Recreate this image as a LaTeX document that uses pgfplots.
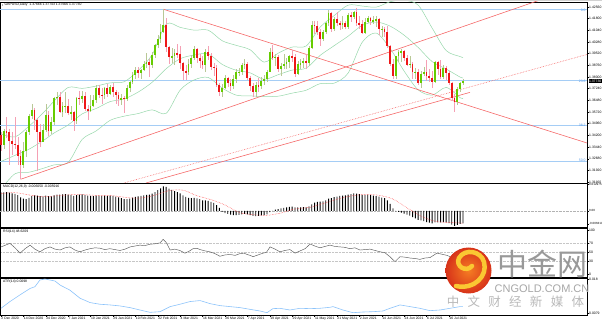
\documentclass[border=0pt]{standalone}
\usepackage{pgfplots}
\pgfplotsset{compat=1.18}
\usepackage{pgfplotstable}
\usepackage{fontspec}
\setmainfont{Liberation Sans}
\newfontfamily\cjk{Noto Sans CJK SC}
\definecolor{bull}{RGB}{102,204,0}
\definecolor{bear}{RGB}{238,24,24}
\definecolor{bullwick}{RGB}{185,200,150}
\definecolor{bearwick}{RGB}{245,160,180}
\definecolor{bband}{RGB}{150,215,170}
\definecolor{trend}{RGB}{245,105,105}
\definecolor{fib}{RGB}{165,205,245}
\definecolor{fibtxt}{RGB}{80,150,230}
\definecolor{atrcol}{RGB}{140,195,250}
\definecolor{logored}{RGB}{215,50,25}
\definecolor{logoor}{RGB}{245,125,35}
\definecolor{logoyel}{RGB}{250,200,50}
\newcommand\tk{\fontsize{3.4}{3.8}\selectfont}

% GBPUSD daily candles, i = bar number from 2 Dec 2020
\pgfplotstableread{
i o h l c
0 1.3425 1.3440 1.3320 1.3360
1 1.3360 1.3460 1.3330 1.3450
2 1.3450 1.3540 1.3400 1.3440
3 1.3440 1.3460 1.3225 1.3385
4 1.3385 1.3445 1.3290 1.3365
5 1.3365 1.3540 1.3330 1.3360
6 1.3360 1.3410 1.3225 1.3285
7 1.3285 1.3325 1.3134 1.3225
8 1.3225 1.3380 1.3210 1.3315
9 1.3315 1.3455 1.3280 1.3440
10 1.3440 1.3560 1.3420 1.3545
11 1.3545 1.3625 1.3525 1.3585
12 1.3585 1.3600 1.3455 1.3520
13 1.3520 1.3530 1.3188 1.3445
14 1.3445 1.3495 1.3345 1.3380
15 1.3380 1.3495 1.3375 1.3455
16 1.3455 1.3625 1.3440 1.3550
17 1.3550 1.3580 1.3415 1.3450
18 1.3450 1.3540 1.3430 1.3505
19 1.3505 1.3670 1.3490 1.3665
20 1.3665 1.3705 1.3620 1.3670
21 1.3670 1.3705 1.3565 1.3570
22 1.3570 1.3640 1.3540 1.3610
23 1.3610 1.3705 1.3565 1.3612
24 1.3610 1.3655 1.3555 1.3565
25 1.3565 1.3610 1.3520 1.3570
26 1.3570 1.3580 1.3450 1.3515
27 1.3515 1.3670 1.3495 1.3665
28 1.3665 1.3710 1.3620 1.3660
29 1.3660 1.3710 1.3630 1.3675
30 1.3675 1.3700 1.3580 1.3590
31 1.3590 1.3620 1.3520 1.3580
32 1.3580 1.3680 1.3575 1.3610
33 1.3610 1.3680 1.3605 1.3650
34 1.3650 1.3745 1.3630 1.3730
35 1.3730 1.3745 1.3665 1.3685
36 1.3685 1.3730 1.3625 1.3680
37 1.3680 1.3735 1.3660 1.3730
38 1.3730 1.3755 1.3670 1.3690
39 1.3690 1.3750 1.3680 1.3735
40 1.3735 1.3760 1.3670 1.3705
41 1.3705 1.3715 1.3625 1.3680
42 1.3680 1.3700 1.3610 1.3655
43 1.3655 1.3690 1.3620 1.3665
44 1.3665 1.3675 1.3566 1.3660
45 1.3660 1.3750 1.3645 1.3730
46 1.3730 1.3775 1.3700 1.3765
47 1.3765 1.3830 1.3755 1.3815
48 1.3815 1.3865 1.3790 1.3845
49 1.3845 1.3865 1.3795 1.3825
50 1.3825 1.3850 1.3790 1.3845
51 1.3845 1.3905 1.3840 1.3885
52 1.3885 1.3953 1.3860 1.3895
53 1.3895 1.3915 1.3800 1.3875
54 1.3875 1.3960 1.3860 1.3945
55 1.3945 1.4015 1.3925 1.4010
56 1.4010 1.4075 1.3990 1.4050
57 1.4050 1.4145 1.4020 1.4095
58 1.4095 1.4241 1.4085 1.4140
59 1.4140 1.4185 1.3960 1.3995
60 1.3995 1.4005 1.3885 1.3930
61 1.3930 1.3990 1.3890 1.3935
62 1.3935 1.3985 1.3875 1.3955
63 1.3955 1.4015 1.3925 1.3950
64 1.3950 1.4005 1.3855 1.3890
65 1.3890 1.3895 1.3778 1.3840
66 1.3840 1.3880 1.3780 1.3830
67 1.3830 1.3915 1.3815 1.3885
68 1.3885 1.3945 1.3860 1.3925
69 1.3925 1.4000 1.3910 1.3985
70 1.3985 1.3990 1.3890 1.3925
71 1.3925 1.3950 1.3860 1.3905
72 1.3905 1.3935 1.3850 1.3875
73 1.3875 1.3985 1.3830 1.3965
74 1.3965 1.4000 1.3910 1.3935
75 1.3935 1.3955 1.3845 1.3865
76 1.3865 1.3890 1.3805 1.3860
77 1.3860 1.3875 1.3735 1.3745
78 1.3745 1.3760 1.3675 1.3700
79 1.3700 1.3755 1.3670 1.3730
80 1.3730 1.3810 1.3720 1.3795
81 1.3795 1.3800 1.3735 1.3760
82 1.3760 1.3785 1.3710 1.3740
83 1.3740 1.3810 1.3725 1.3785
84 1.3785 1.3850 1.3760 1.3830
85 1.3830 1.3860 1.3805 1.3835
86 1.3835 1.3890 1.3815 1.3880
87 1.3880 1.3920 1.3850 1.3885
88 1.3885 1.3895 1.3780 1.3795
89 1.3795 1.3805 1.3710 1.3740
90 1.3740 1.3760 1.3670 1.3705
91 1.3705 1.3765 1.3670 1.3745
92 1.3745 1.3795 1.3700 1.3740
93 1.3740 1.3800 1.3725 1.3775
94 1.3775 1.3815 1.3745 1.3785
95 1.3785 1.3845 1.3770 1.3835
96 1.3835 1.3990 1.3830 1.3960
97 1.3960 1.4010 1.3910 1.3925
98 1.3925 1.3950 1.3870 1.3930
99 1.3930 1.3945 1.3830 1.3850
100 1.3850 1.3890 1.3805 1.3870
101 1.3870 1.3950 1.3850 1.3885
102 1.3885 1.3925 1.3850 1.3895
103 1.3895 1.3945 1.3860 1.3935
104 1.3935 1.3975 1.3900 1.3930
105 1.3930 1.3950 1.3800 1.3820
106 1.3820 1.3905 1.3810 1.3885
107 1.3885 1.3915 1.3850 1.3890
108 1.3890 1.3925 1.3860 1.3905
109 1.3905 1.3950 1.3850 1.3890
110 1.3890 1.4000 1.3870 1.3990
111 1.3990 1.4165 1.3985 1.4140
112 1.4140 1.4165 1.4080 1.4135
113 1.4135 1.4165 1.4075 1.4095
114 1.4095 1.4110 1.4005 1.4050
115 1.4050 1.4105 1.4035 1.4095
116 1.4095 1.4155 1.4080 1.4150
117 1.4150 1.4235 1.4135 1.4215
118 1.4215 1.4220 1.4095 1.4110
119 1.4110 1.4190 1.4100 1.4180
120 1.4180 1.4220 1.4135 1.4150
121 1.4150 1.4165 1.4105 1.4145
122 1.4145 1.4200 1.4110 1.4150
123 1.4150 1.4165 1.4110 1.4125
124 1.4125 1.4215 1.4110 1.4205
125 1.4205 1.4220 1.4160 1.4190
126 1.4190 1.4230 1.4175 1.4225
127 1.4225 1.4250 1.4135 1.4150
128 1.4150 1.4195 1.4115 1.4145
129 1.4145 1.4170 1.4080 1.4085
130 1.4085 1.4185 1.4080 1.4160
131 1.4160 1.4200 1.4150 1.4185
132 1.4185 1.4190 1.4140 1.4165
133 1.4165 1.4195 1.4145 1.4170
134 1.4170 1.4200 1.4125 1.4175
135 1.4175 1.4185 1.4075 1.4110
136 1.4110 1.4135 1.4060 1.4115
137 1.4115 1.4125 1.4060 1.4095
138 1.4095 1.4135 1.3990 1.4005
139 1.4005 1.4010 1.3870 1.3885
140 1.3885 1.3915 1.3785 1.3805
141 1.3805 1.3935 1.3790 1.3935
142 1.3935 1.3975 1.3895 1.3960
143 1.3960 1.3985 1.3900 1.3970
144 1.3970 1.3975 1.3905 1.3925
145 1.3925 1.3945 1.3870 1.3880
146 1.3880 1.3935 1.3860 1.3885
147 1.3885 1.3900 1.3790 1.3830
148 1.3830 1.3860 1.3785 1.3835
149 1.3835 1.3850 1.3745 1.3760
150 1.3760 1.3840 1.3730 1.3820
151 1.3820 1.3865 1.3805 1.3835
152 1.3835 1.3910 1.3775 1.3805
153 1.3805 1.3850 1.3765 1.3795
154 1.3795 1.3840 1.3730 1.3765
155 1.3765 1.3905 1.3760 1.3895
156 1.3895 1.3905 1.3815 1.3855
157 1.3855 1.3910 1.3790 1.3800
158 1.3800 1.3880 1.3790 1.3860
159 1.3860 1.3870 1.3780 1.3825
160 1.3825 1.3840 1.3750 1.3760
161 1.3760 1.3765 1.3645 1.3665
162 1.3665 1.3690 1.3572 1.3635
163 1.3635 1.3735 1.3620 1.3725
164 1.3725 1.3770 1.3700 1.3760
165 1.3760 1.3785 1.3745 1.3773
}\candles

% Bollinger bands (20,2), read every few bars
\pgfplotstableread{
i up mid lo
0 1.3430 1.3250 1.3070
5 1.3410 1.3290 1.3170
10 1.3480 1.3330 1.3180
15 1.3565 1.3385 1.3205
19 1.3644 1.3436 1.3228
24 1.3732 1.3488 1.3244
29 1.3726 1.3560 1.3394
34 1.3741 1.3595 1.3449
39 1.3762 1.3640 1.3518
44 1.3769 1.3657 1.3545
49 1.3842 1.3702 1.3562
54 1.3946 1.3766 1.3586
59 1.4144 1.3854 1.3564
64 1.4123 1.3919 1.3715
69 1.4105 1.3943 1.3781
74 1.4105 1.3951 1.3797
79 1.4036 1.3882 1.3728
84 1.4006 1.3844 1.3682
89 1.3977 1.3827 1.3677
94 1.3897 1.3785 1.3673
99 1.3955 1.3815 1.3675
104 1.3995 1.3845 1.3695
109 1.4002 1.3858 1.3714
114 1.4125 1.3941 1.3757
119 1.4200 1.4004 1.3760
124 1.4268 1.4066 1.3826
129 1.4262 1.4136 1.4026
134 1.4255 1.4158 1.4086
139 1.4290 1.4131 1.3985
144 1.4300 1.4072 1.3838
149 1.4268 1.3992 1.3716
154 1.4118 1.3900 1.3682
159 1.3972 1.3852 1.3732
164 1.3933 1.3799 1.3665
165 1.3926 1.3794 1.3662
}\bbands

% MACD main line, units of 0.0001
\pgfplotstableread{
i m
0 90
1 91
2 92
3 89
4 86
5 83
6 77
7 66
8 60
9 58
10 64
11 72
12 76
13 75
14 72
15 71
16 74
17 72
18 71
19 76
20 80
21 80
22 81
23 82
24 80
25 78
26 73
27 77
28 79
29 81
30 78
31 75
32 73
33 72
34 74
35 74
36 73
37 75
38 73
39 74
40 73
41 70
42 66
43 62
44 57
45 58
46 60
47 65
48 69
49 71
50 73
51 76
52 78
53 79
54 84
55 92
56 101
57 110
58 120
59 117
60 109
61 102
62 97
63 92
64 85
65 76
66 68
67 64
68 63
69 64
70 61
71 57
72 52
73 52
74 49
75 44
76 39
77 28
78 15
79 -4
80 -10
81 -14
82 -18
83 -20
84 -20
85 -19
86 -16
87 -14
88 -16
89 -20
90 -24
91 -25
92 -24
93 -22
94 -20
95 -16
96 -6
97 0
98 6
99 9
100 12
101 15
102 18
103 20
104 21
105 18
106 18
107 18
108 19
109 18
110 22
111 32
112 40
113 44
114 45
115 47
116 52
117 60
118 62
119 67
120 70
121 73
122 75
123 76
124 80
125 82
126 85
127 84
128 82
129 78
130 78
131 79
132 77
133 74
134 72
135 70
136 65
137 62
138 52
139 34
140 12
141 -2
142 -5
143 -8
144 -13
145 -18
146 -23
147 -30
148 -36
149 -43
150 -46
151 -50
152 -54
153 -57
154 -60
155 -56
156 -55
157 -56
158 -54
159 -55
160 -59
161 -66
162 -72
163 -68
164 -63
165 -60.5
}\macd

\begin{document}
\begin{tikzpicture}[x=1pt,y=1pt]
\useasboundingbox (0,0) rectangle (602,-320);
\fill[gray!35] (0,0) rectangle (602,-1.2);

\pgfplotsset{panel/.style={
  scale only axis, width=587pt,
  xmin=-0.357, xmax=209.29,
  axis line style={line width=0.5pt},
  tick align=outside, major tick length=1.6pt,
  tick style={line width=0.4pt, black},
  ytick pos=right, yticklabel pos=right,
  xtick=\empty,
  yticklabel style={font=\tk, inner sep=0.4pt, anchor=west},
  clip mode=individual,
}}
\pgfplotsset{candle/.style={draw=none, mark=none, forget plot,
  error bars/.cd, y dir=both, y explicit, error mark=none,
  error bar style={draw=#1}}}

% ---- price panel ----
\begin{axis}[panel, at={(0pt,-2pt)}, anchor=north west, height=181pt,
  ymin=1.31099, ymax=1.42883,
  ytick={1.3116,1.3192,1.3268,1.3344,1.3420,1.3496,1.3572,1.3648,1.3724,1.3800,1.3876,1.3952,1.4028,1.4104,1.4180,1.4256},
  yticklabels={1.31160,1.31920,1.32680,1.33440,1.34200,1.34960,1.35720,1.36480,1.37240,1.38000,1.38760,1.39520,1.40280,1.41040,1.41800,1.42560},
]
% fibonacci levels
\addplot[fib, line width=1pt] coordinates {(-0.357,1.4241)(209.29,1.4241)};
\addplot[fib, line width=1pt] coordinates {(-0.357,1.3774)(209.29,1.3774)};
\addplot[fib, line width=1pt] coordinates {(-0.357,1.3485)(209.29,1.3485)};
\addplot[fib, line width=1pt] coordinates {(-0.357,1.3251)(209.29,1.3251)};
% bollinger
\addplot[bband, line width=0.5pt, smooth] table[x=i, y=up] {\bbands};
\addplot[bband, line width=0.5pt, smooth] table[x=i, y=mid] {\bbands};
\addplot[bband, line width=0.5pt, smooth] table[x=i, y=lo] {\bbands};
% trend lines
\addplot[trend, line width=0.6pt] coordinates {(58,1.4241)(209.29,1.33704)};
\addplot[trend, line width=0.6pt] coordinates {(7,1.3134)(209.29,1.4407)};
\addplot[trend, line width=0.6pt] coordinates {(51.8,1.3110)(167.5,1.3700)};
\addplot[trend, line width=0.6pt, densely dotted] coordinates {(43.9,1.3110)(209.29,1.3947)};
% wicks
\addplot[candle={bullwick, line width=0.5pt}]
  table[x=i, y expr={\thisrow{c}>=\thisrow{o} ? 0.5*(\thisrow{h}+\thisrow{l}) : nan},
        y error expr={0.5*(\thisrow{h}-\thisrow{l})}] {\candles};
\addplot[candle={bearwick, line width=0.5pt}]
  table[x=i, y expr={\thisrow{c}<\thisrow{o} ? 0.5*(\thisrow{h}+\thisrow{l}) : nan},
        y error expr={0.5*(\thisrow{h}-\thisrow{l})}] {\candles};
% bodies
\addplot[candle={bull, line width=1.8pt}]
  table[x=i, y expr={\thisrow{c}>=\thisrow{o} ? 0.5*(\thisrow{o}+\thisrow{c}) : nan},
        y error expr={0.5*(\thisrow{c}-\thisrow{o})}] {\candles};
\addplot[candle={bear, line width=1.8pt}]
  table[x=i, y expr={\thisrow{c}<\thisrow{o} ? 0.5*(\thisrow{o}+\thisrow{c}) : nan},
        y error expr={0.5*(\thisrow{o}-\thisrow{c})}] {\candles};
\end{axis}

% ---- MACD panel ----
\begin{axis}[panel, at={(0pt,-183pt)}, anchor=north west, height=44pt,
  ymin=-78, ymax=136,
  ytick={-63.19,0,129.75}, yticklabels={-0.006319,0.00,0.012975},
  yticklabel style={font=\fontsize{3}{3.4}\selectfont},
]
\addplot[gray!60, densely dotted, line width=0.4pt] coordinates {(-0.357,0)(209.29,0)};
\addplot[ybar, bar width=0.9pt, bar shift=0pt, fill=black, draw=none] table[x=i, y=m] {\macd};
\addplot[red!80, densely dotted, line width=0.5pt, smooth] coordinates {
  (0,85) (5,89) (10,78) (15,69) (20,74) (25,79) (30,79) (35,75) (40,74) (45,65)
  (50,63) (55,77) (60,99) (65,101) (70,74) (75,55) (80,29) (85,-7) (90,-18) (95,-21)
  (100,-10) (105,10) (110,17) (115,36) (120,57) (125,73) (130,80) (135,76) (140,58)
  (145,15) (150,-25) (155,-50) (160,-56) (165,-59.16)};
\end{axis}

% ---- RSI panel ----
\begin{axis}[panel, at={(0pt,-228pt)}, anchor=north west, height=49pt,
  ymin=-5.6, ymax=104.5,
  ytick={30,50,70}, yticklabels={30,50,70},
  extra y ticks={0,100}, extra y tick labels={0,100},
  extra y tick style={grid=none},
  ymajorgrids, grid style={densely dotted, gray!45, line width=0.3pt},
]
\addplot[gray!70!black, line width=0.45pt] coordinates {
(0,62) (3.2,70) (5,60) (6.8,48) (8.6,58) (10.4,66) (12.1,57) (13.9,51) (15.7,58) (17.5,62)
(19.3,57) (21.1,55) (22.9,60) (24.6,62) (26.4,55) (28.2,51) (30,55) (31.8,58) (33.6,60) (35.4,59)
(37.1,56) (38.9,58) (40.7,56) (42.5,54) (44.3,57) (46.1,62) (47.9,64) (49.6,66) (51.4,65) (53.2,68)
(55,69) (56.8,71) (57.9,79) (59,72) (60.4,55) (62.1,57) (63.9,54) (65.7,48) (67.1,52) (68.6,58)
(70,59) (71.1,56) (72.9,53) (74.6,51) (76.4,47) (78.2,41) (80,44) (81.8,45) (83.6,43) (85.4,47)
(86.8,48) (87.9,45) (89,43) (90,40) (91.8,44) (93.6,48) (94.8,50) (96.1,62) (97.9,57) (99.6,51)
(101.4,54) (103.2,56) (105,48) (106.8,53) (108.6,58) (110.4,68.5) (112.1,64) (113.9,60) (115.7,63) (117.5,66)
(119.3,63) (121.1,62) (122.9,61) (124.6,58) (126.4,60) (128.2,55) (130,56) (131.8,57) (133.6,54) (135.4,51)
(137.1,49) (138.9,40) (140.7,29) (142.5,40) (144.3,39) (146.1,37) (147.9,36) (149.6,34) (151.4,37) (153.2,38)
(155.7,48) (157.9,45) (159.3,43) (160.4,40) (161.5,33) (162.3,31) (163.2,42) (164.1,46) (165,48.6)};
\end{axis}

% ---- ATR panel ----
\begin{axis}[panel, at={(0pt,-278pt)}, anchor=north west, height=37pt,
  ymin=73.1, ymax=183,
  ytick={79,180}, yticklabels={0.0079,0.018},
  xtick={0,8,...,160}, xtick pos=bottom,
  xticklabels={2 Dec 2020,14 Dec 2020,24 Dec 2020,7 Jan 2021,19 Jan 2021,29 Jan 2021,10 Feb 2021,22 Feb 2021,4 Mar 2021,16 Mar 2021,26 Mar 2021,7 Apr 2021,19 Apr 2021,29 Apr 2021,11 May 2021,21 May 2021,2 Jun 2021,14 Jun 2021,24 Jun 2021,6 Jul 2021,16 Jul 2021},
  xticklabel style={font=\tk, anchor=north west, inner sep=0.3pt},
]
\addplot[atrcol, line width=0.6pt] coordinates {
(0,93) (3.2,113) (6.8,133) (10.4,152) (12.1,157) (13.9,177) (15.7,180) (17.5,177) (19.3,174) (21.1,162)
(24.6,147) (28.2,123) (31.8,110) (35.4,105) (38.9,103) (42.5,100) (46.1,95) (49.6,88) (53.2,81) (56.8,83)
(60.4,98) (63.9,105) (67.5,113) (71.1,116) (74.6,107) (78.2,101) (81.8,98) (85.4,95) (88.9,90) (92.5,85)
(95,80) (97.1,92) (99.6,93) (103.2,88) (106.8,93) (110.4,92) (113.9,93) (117.5,96) (118.6,98) (122.1,88)
(125.7,80) (129.3,82) (132.9,83) (136.4,85) (138.9,93) (142.5,103) (146.1,98) (149.6,93) (153.2,86) (156.8,88)
(160.4,93) (163.9,98) (165,98)};
\end{axis}

% ---- texts ----
\fill[gray!60] (1.5,-3.6) rectangle (3.3,-5.6);
\node[font=\tk, anchor=west, inner sep=0pt] at (4.5,-4.6) {GBPUSD,Daily\ \ 1.37666 1.37743 1.37666 1.37730};
\node[font=\tk, anchor=west, inner sep=0pt] at (3,-186.5) {MACD(12,26,9) -0.006050 -0.005916};
\node[font=\tk, anchor=west, inner sep=0pt] at (3,-231.5) {RSI(14) 48.6209};
\node[font=\tk, anchor=west, inner sep=0pt] at (3,-281.5) {ATR(14) 0.0098};
\node[font=\tk, text=fibtxt, anchor=east, inner sep=0.3pt] at (586,-10.7) {0.0};
\node[font=\tk, text=fibtxt, anchor=east, inner sep=0.3pt] at (586,-81) {23.6};
\node[font=\tk, text=fibtxt, anchor=east, inner sep=0.3pt] at (586,-125) {38.2};
\node[font=\tk, text=fibtxt, anchor=east, inner sep=0.3pt] at (586,-160.5) {50.0};
\node[font=\tk, fill=black, text=white, anchor=west, inner sep=0.5pt] at (588.3,-81.2) {1.37730};

% ---- watermark ----
\shade[inner color=logoor, outer color=logored] (468.5,-270.5) circle (23);
\draw[logoyel, line width=4.5pt, line cap=round]
  (456,-286) .. controls (474,-290) and (488,-276) .. (484,-262)
  .. controls (481,-251) and (465,-248) .. (459,-258)
  .. controls (455,-266) and (466,-273) .. (472,-266);
\node[text=gray!80, font=\cjk\fontsize{30}{30}\selectfont, anchor=center, inner sep=0pt] at (542,-264) {中金网};
\node[text=gray!70, font=\fontsize{11}{11}\selectfont, anchor=center, inner sep=0pt] at (542,-288.5) {CNGOLD.COM.CN};
\foreach \ch [count=\k from 0] in {中,文,财,经,新,媒,体}
  \node[text=gray!55, font=\cjk\fontsize{12.5}{12.5}\selectfont, inner sep=0pt] at (453+20.8*\k,-301.5) {\ch};
\end{tikzpicture}
\end{document}
